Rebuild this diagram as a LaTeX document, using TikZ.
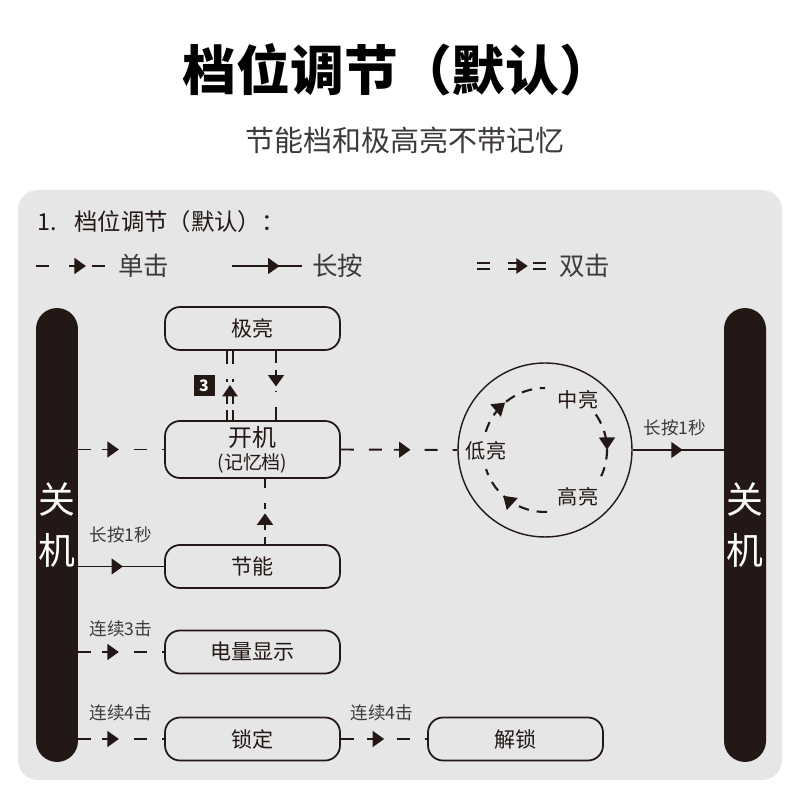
\documentclass[tikz,border=0pt]{standalone}
\usepackage{fontspec}
\usepackage{tikz}
\usetikzlibrary{arrows.meta, positioning, calc, decorations.markings}
\setmainfont{Noto Sans CJK SC}
\definecolor{PanelGray}{HTML}{E6E6E6}
\definecolor{InkDark}{HTML}{231815}
\definecolor{InkSoft}{HTML}{3E3A39}
\tikzset{
    % Rounded mode boxes
    mode box/.style={
        rectangle,
        rounded corners=0.3cm,
        draw=InkDark,
        fill=PanelGray,
        line width=1pt,
        minimum width=3.5cm,
        minimum height=0.86cm,
        align=center,
        text=InkDark,
        font=\fontsize{12}{14}\selectfont
    },
    off bar/.style={
        rectangle,
        rounded corners=0.42cm,
        fill=InkDark,
        minimum width=0.84cm,
        minimum height=9.08cm,
        inner sep=0pt
    },
    bar text/.style={
        text=white,
        font=\fontsize{21}{21}\selectfont
    },
    small label/.style={
        text=InkSoft,
        font=\fontsize{10}{12}\selectfont
    },
    legend text/.style={
        anchor=west,
        inner sep=0pt,
        text=InkSoft,
        font=\fontsize{14.5}{16}\selectfont
    },
    % single click: dashes with a solid arrow
    click arrow/.style={
        draw=InkDark,
        line width=1.1pt,
        dash pattern=on 7.4pt off 8.5pt,
        postaction={decorate, decoration={markings, mark=at position #1 with {
            \fill[PanelGray] (-9pt,-2.5pt) rectangle (7pt,2.5pt);
            \draw[InkDark, solid, line width=1.1pt, -{Triangle[length=6.5pt,width=9pt]}] (-5pt,0) -- (4.5pt,0);
        }}}
    },
    click arrow/.default=0.5,
    % long press: solid line with arrow
    hold arrow/.style={
        draw=InkDark,
        line width=1.1pt,
        postaction={decorate, decoration={markings, mark=at position #1 with {
            \arrow{Triangle[length=6.5pt,width=9pt]}
        }}}
    },
    hold arrow/.default=0.5,
    % double click: double dashes with double arrow
    dbl click/.style={
        draw=none,
        preaction={draw=InkDark, line width=1pt, dash pattern=on 7.4pt off 8.5pt,
            double=PanelGray, double distance=2.4pt},
        postaction={decorate, decoration={markings, mark=at position #1 with {
            \fill[PanelGray] (-9pt,-4.5pt) rectangle (7pt,4.5pt);
            \draw[InkDark, line width=1pt] (-6pt,1.7pt) -- (-1pt,1.7pt) (-6pt,-1.7pt) -- (-1pt,-1.7pt);
            \fill[InkDark] (5pt,0) -- (-1.5pt,4.5pt) -- (-1.5pt,-4.5pt) -- cycle;
        }}}
    },
    dbl click/.default=0.5,
    % dashed arcs inside the brightness cycle
    cycle arc/.style={
        draw=InkDark,
        line width=1.2pt,
        dash pattern=on 6pt off 4.5pt,
        postaction={decorate, decoration={markings, mark=at position #1 with {
            \arrow[solid]{Triangle[length=7pt,width=9pt]}
        }}}
    }
}

\begin{document}
\begin{tikzpicture}[x=0.02cm, y=0.02cm]
    % Page and panel
    \fill[white] (0,0) rectangle (800,800);
    \useasboundingbox (0,0) rectangle (800,800);
    \fill[PanelGray, rounded corners=0.4cm] (18,20) rectangle (782,610);

    % Title
    \node[font=\fontsize{30.6}{32}\selectfont\bfseries] (title) at (398,730) {档位调节（默认）};
    \node[text=InkSoft, font=\fontsize{16.5}{18}\selectfont] (subtitle) at (405,660) {节能档和极高亮不带记忆};

    % Header and legend
    \node[anchor=west, inner sep=0pt, text=InkDark, font=\fontsize{13.3}{15}\selectfont] (header) at (37,578) {1.\hspace{0.75em}档位调节（默认）：};
    \coordinate (lgA) at (36,534);
    \coordinate (lgB) at (106,534);
    \draw[click arrow=0.6] (lgA) -- (lgB);
    \node[legend text] (lgclick) at (118,534) {单击};
    \coordinate (lgC) at (232,534);
    \coordinate (lgD) at (302,534);
    \draw[hold arrow=0.68] (lgC) -- (lgD);
    \node[legend text] (lghold) at (312,534) {长按};
    \coordinate (lgE) at (477,534);
    \coordinate (lgF) at (548,534);
    \draw[dbl click=0.59] (lgE) -- (lgF);
    \node[legend text] (lgdbl) at (559,534) {双击};

    % Off bars
    \node[off bar] (offL) at (57,265) {};
    \node[off bar] (offR) at (745,265) {};
    \node[bar text] at (57,300) {关};
    \node[bar text] at (57,250) {机};
    \node[bar text] at (745,300) {关};
    \node[bar text] at (745,250) {机};

    % Mode boxes
    \node[mode box] (jiliang) at (252.5,471.5) {极亮};
    \node[mode box, minimum height=1.14cm, inner sep=1pt] (jiyi) at (252.5,350.5) {{\fontsize{13.6}{15}\selectfont 开机}\\[-1pt]{\fontsize{10.8}{12}\selectfont (记忆档)}};
    \node[mode box] (jieneng) at (252.5,233.5) {节能};
    \node[mode box] (dianliang) at (252.5,148) {电量显示};
    \node[mode box] (suoding) at (252.5,61) {锁定};
    \node[mode box] (jiesuo) at (515.5,61) {解锁};

    % Brightness cycle
    \node[circle, draw=InkDark, line width=0.8pt, minimum size=3.48cm] (cyc) at (545,350) {};
    \draw[cycle arc=0.45] ($(cyc.center)+(163:1.24cm)$) arc[start angle=163, end angle=90, radius=1.24cm];
    \draw[cycle arc=0.58] ($(cyc.center)+(35:1.24cm)$) arc[start angle=35, end angle=-25, radius=1.24cm];
    \draw[cycle arc=0.6] ($(cyc.center)+(-88:1.24cm)$) arc[start angle=-88, end angle=-162, radius=1.24cm];
    \node[text=InkDark, font=\fontsize{11.5}{13}\selectfont] (zhong) at (578,400) {中亮};
    \node[text=InkDark, font=\fontsize{11.5}{13}\selectfont] (di) at (486,349) {低亮};
    \node[text=InkDark, font=\fontsize{11.5}{13}\selectfont] (gao) at (578,303) {高亮};

    % Connectors
    \draw[click arrow=0.38] (offL.east |- jiyi.west) -- (jiyi.west);
    \draw[click arrow=0.53] (jiyi.east) -- (cyc.west);
    \draw[hold arrow=0.55] (cyc.east) -- (cyc.east -| offR.west);
    \node[small label] (lbcyc) at (675,372) {长按1秒};
    \draw[hold arrow=0.52] (offL.east |- jieneng.west) -- (jieneng.west);
    \node[small label] (lbjn) at (121,265) {长按1秒};
    \draw[click arrow=0.38] (offL.east |- dianliang.west) -- (dianliang.west);
    \node[small label] (lbdl) at (121,171) {连续3击};
    \draw[click arrow=0.38] (offL.east |- suoding.west) -- (suoding.west);
    \node[small label] (lbsd) at (121,87) {连续4击};
    \draw[click arrow=0.41] (suoding.east) -- (jiesuo.west);
    \node[small label] (lbjs) at (382,87) {连续4击};
    \draw[click arrow=0.35] ([xshift=0.25cm]jieneng.north) -- ([xshift=0.25cm]jiyi.south);
    \draw[click arrow=0.4] ([xshift=0.47cm]jiliang.south) -- ([xshift=0.47cm]jiyi.north);
    \draw[dbl click=0.38] ([xshift=-0.45cm]jiyi.north) -- ([xshift=-0.45cm]jiliang.south);

    % Triple click badge
    \node[fill=InkDark, text=white, minimum size=0.42cm, inner sep=0pt, font=\fontsize{9}{9}\selectfont\bfseries] (badge) at (204,414) {3};
\end{tikzpicture}
\end{document}
